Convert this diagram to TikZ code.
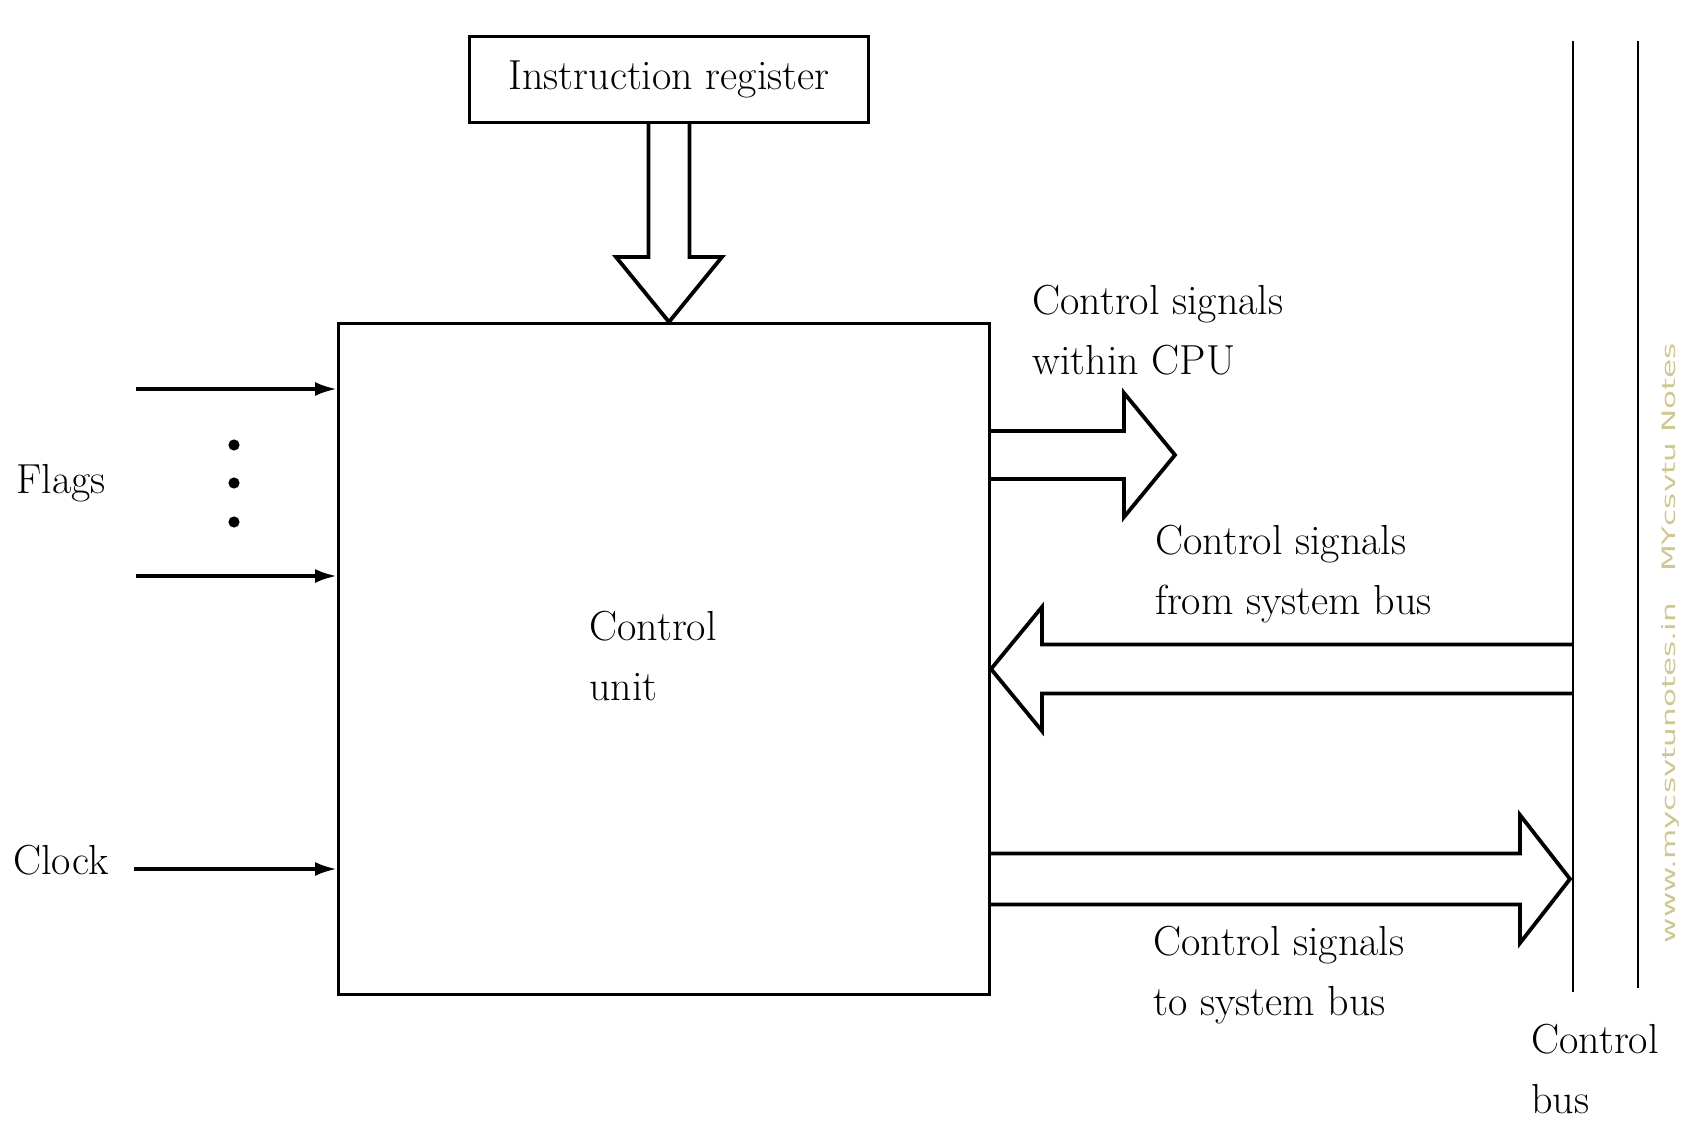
\documentclass[tikz,border=0pt]{standalone}
\usepackage{graphicx}
\usepackage{fontspec}
\newfontfamily\wmfont{DejaVu Sans}
\usetikzlibrary{calc,arrows.meta}
\definecolor{wmcol}{RGB}{208,198,145}
\begin{document}
\begin{tikzpicture}[x=0.5pt,y=-0.5pt,
  box/.style={draw, line width=1.5pt, inner sep=0pt},
  lbl/.style={font=\fontsize{21}{30}\selectfont, inner sep=0pt, align=left},
  fat/.style={draw, line width=1.9pt, line join=miter},
  sig/.style={line width=1.8pt, -{Latex[length=11pt,width=7pt]}},
  busline/.style={line width=1.4pt}]
\useasboundingbox (0,0) rectangle (1682,1123);
% boxes
\node[box, lbl, minimum width=199.5pt, minimum height=43pt, anchor=north west] (ir) at (468,35) {Instruction register};
\node[box, minimum width=325.5pt, minimum height=335.5pt, anchor=north west] (cu) at (337,322) {};
\node[lbl, anchor=west] (cutext) at (589,656) {Control\\unit};
% IR -> CU fat arrow
\coordinate (irTip) at (ir.south |- cu.north);
\draw[fat] ($(ir.south)+(-20.5,0)$) -- ($(irTip)+(-20.5,-65)$) -- ($(irTip)+(-53,-65)$) -- (irTip) -- ($(irTip)+(53,-65)$) -- ($(irTip)+(20.5,-65)$) -- ($(ir.south)+(20.5,0)$);
% bus lines
\coordinate (b1t) at (1573,41); \coordinate (b1b) at (1573,992);
\coordinate (b2t) at (1638,41); \coordinate (b2b) at (1638,988);
\draw[busline] (b1t) -- (b1b);
\draw[busline] (b2t) -- (b2b);
% within CPU
\coordinate (cpuTip) at (1175,455);
\coordinate (cpuTail) at (cu.east |- cpuTip);
\draw[fat] ($(cpuTail)+(0,-24)$) -- ($(cpuTip)+(-51,-24)$) -- ($(cpuTip)+(-51,-62)$) -- (cpuTip) -- ($(cpuTip)+(-51,62)$) -- ($(cpuTip)+(-51,24)$) -- ($(cpuTail)+(0,24)$);
% from system bus
\coordinate (fromTail) at (1573,669);
\coordinate (fromTip) at (cu.east |- fromTail);
\draw[fat] ($(fromTail)+(0,-24.5)$) -- ($(fromTip)+(51,-24.5)$) -- ($(fromTip)+(51,-62)$) -- (fromTip) -- ($(fromTip)+(51,62)$) -- ($(fromTip)+(51,24.5)$) -- ($(fromTail)+(0,24.5)$);
% to system bus
\coordinate (toTip) at (1570,879);
\coordinate (toTail) at (cu.east |- toTip);
\draw[fat] ($(toTail)+(0,-25.5)$) -- ($(toTip)+(-50,-25.5)$) -- ($(toTip)+(-50,-64)$) -- (toTip) -- ($(toTip)+(-50,64)$) -- ($(toTip)+(-50,25.5)$) -- ($(toTail)+(0,25.5)$);
% flags
\node[lbl, anchor=west] (flags) at (16,483) {Flags};
\coordinate (f1) at (136,389);
\coordinate (f2) at (136,576);
\draw[sig] (f1) -- (cu.west |- f1);
\draw[sig] (f2) -- (cu.west |- f2);
\fill (234,445) circle[radius=2.8pt];
\fill (234,483) circle[radius=2.8pt];
\fill (234,522) circle[radius=2.8pt];
% clock
\node[lbl, anchor=west] (clk) at (13,860) {Clock};
\coordinate (c1) at (134,869);
\draw[sig] (c1) -- (cu.west |- c1);
% labels
\node[lbl, anchor=west] (lcpu) at (1032,330) {Control signals\\within CPU};
\node[lbl, anchor=west] (lfrom) at (1155,574) {Control signals\\from system bus};
\node[lbl, anchor=west] (lto) at (1153,975) {Control signals\\to system bus};
\node[lbl, anchor=west] (lbus) at (1531,1069) {Control\\bus};
% watermark
\node[rotate=90, anchor=south, inner sep=0pt, text=wmcol] (wm) at (1680,643) {\resizebox{300pt}{7pt}{\wmfont www.mycsvtunotes.in\quad MYcsvtu Notes}};
\end{tikzpicture}
\end{document}
